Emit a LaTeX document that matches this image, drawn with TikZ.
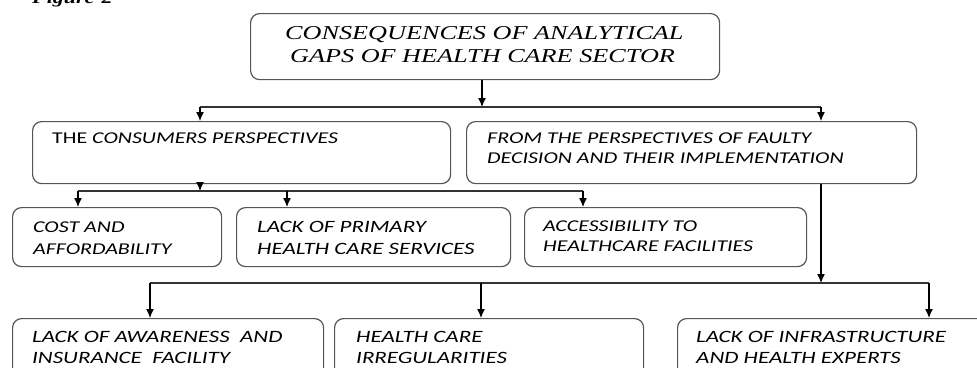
\documentclass[tikz,border=0pt]{standalone}
\usepackage{fontspec}
\setmainfont{Liberation Serif}
\newfontfamily\boxfont[FakeStretch=1.33]{Carlito}
\newfontfamily\headfont[FakeStretch=1.33]{Liberation Serif}
\usetikzlibrary{arrows.meta}
\definecolor{boxgray}{HTML}{555555}
\definecolor{linegray}{HTML}{333333}
\begin{document}
\begin{tikzpicture}[x=1pt,y=-1pt,
  box/.style={draw=boxgray, line width=1.2pt, rounded corners=9pt, inner sep=0pt, anchor=north west},
  txt/.style={anchor=base west, inner sep=0pt, font=\boxfont\itshape\fontsize{16.5}{20}\selectfont},
  bigtxt/.style={txt, font=\boxfont\itshape\fontsize{17.3}{20}\selectfont},
  headtxt/.style={anchor=base west, inner sep=0pt, font=\headfont\itshape\fontsize{19.7}{24}\selectfont},
  figtxt/.style={anchor=base west, inner sep=0pt, font=\headfont\bfseries\itshape\fontsize{16.5}{20}\selectfont},
  arr/.style={draw=black, line width=1.2pt, -{Latex[length=9pt,width=8pt]}},
  bus/.style={draw=linegray, line width=1.2pt}]
\useasboundingbox (0,0) rectangle (977,367);

% caption at the top edge
\node[figtxt] (fig) at (32,3) {Figure-2};

% boxes
\node[box, minimum width=469pt, minimum height=66pt] (top) at (250,13) {};
\node[box, minimum width=418pt, minimum height=62pt] (cons) at (32,121) {};
\node[box, minimum width=450pt, minimum height=62pt] (faulty) at (466,121) {};
\node[box, minimum width=209pt, minimum height=59pt] (cost) at (12,207) {};
\node[box, minimum width=274pt, minimum height=59pt] (prim) at (236,207) {};
\node[box, minimum width=282pt, minimum height=59pt] (acc) at (524,207) {};
\node[box, minimum width=311pt, minimum height=80pt] (aware) at (12,318) {};
\node[box, minimum width=309pt, minimum height=80pt] (irreg) at (334,318) {};
\node[box, minimum width=330pt, minimum height=80pt] (infra) at (677,318) {};

% texts
\node[headtxt] (topa) at (285,39) {CONSEQUENCES OF ANALYTICAL};
\node[headtxt] (topb) at (290,62) {GAPS OF HEALTH CARE SECTOR};
\node[txt, font=\boxfont\fontsize{16.5}{20}\selectfont] (consa) at (52,143) {THE \textit{CONSUMERS PERSPECTIVES}};
\node[txt] (faultya) at (487,143) {FROM THE PERSPECTIVES OF FAULTY};
\node[txt] (faultyb) at (487,163) {DECISION AND THEIR IMPLEMENTATION};
\node[txt] (costa) at (33,232) {COST AND};
\node[txt] (costb) at (33,254) {AFFORDABILITY};
\node[bigtxt] (prima) at (257,232) {LACK OF PRIMARY};
\node[bigtxt] (primb) at (257,254) {HEALTH CARE SERVICES};
\node[txt] (acca) at (543,231) {ACCESSIBILITY TO};
\node[txt] (accb) at (543,251) {HEALTHCARE FACILITIES};
\node[bigtxt] (awarea) at (32,342) {LACK OF AWARENESS\ \ AND};
\node[bigtxt] (awareb) at (32,363) {INSURANCE\ \ FACILITY};
\node[bigtxt] (irrega) at (356,342) {HEALTH CARE};
\node[bigtxt] (irregb) at (356,363) {IRREGULARITIES};
\node[bigtxt] (infraa) at (696,342) {LACK OF INFRASTRUCTURE};
\node[bigtxt] (infrab) at (696,363) {AND HEALTH EXPERTS};

% junction points of the connector buses
\coordinate (j1) at (482,107);
\coordinate (j1l) at (200,107);
\coordinate (j1r) at (821,107);
\coordinate (j2) at (200,191);
\coordinate (j2l) at (78,191);
\coordinate (j2m) at (287,191);
\coordinate (j2r) at (583,191);
\coordinate (j3) at (821,283);
\coordinate (j3l) at (150,283);
\coordinate (j3m) at (481,283);
\coordinate (j3r) at (929,283);

% level 1
\draw[arr] (top.south -| j1) -- (j1);
\draw[bus] (j1l) -- (j1r);
\draw[arr] (j1l) -- (j1l |- cons.north);
\draw[arr] (j1r) -- (j1r |- faulty.north);

% level 2, consumers
\draw[arr] (cons.south -| j2) -- (j2);
\draw[bus] (j2l) -- (j2r);
\draw[arr] (j2l) -- (j2l |- cost.north);
\draw[arr] (j2m) -- (j2m |- prim.north);
\draw[arr] (j2r) -- (j2r |- acc.north);

% level 2, faulty decisions
\draw[arr] (faulty.south -| j3) -- (j3);
\draw[bus] (j3l) -- (j3r);
\draw[arr] (j3l) -- (j3l |- aware.north);
\draw[arr] (j3m) -- (j3m |- irreg.north);
\draw[arr] (j3r) -- (j3r |- infra.north);
\end{tikzpicture}
\end{document}
